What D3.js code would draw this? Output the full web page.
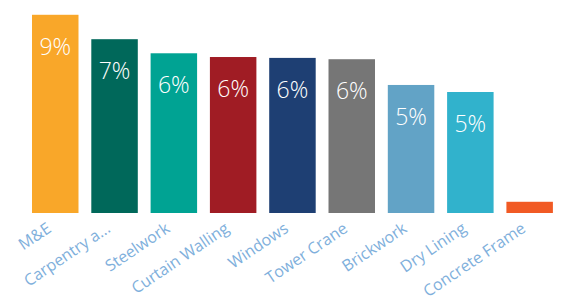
<!DOCTYPE html>
<html><head><meta charset="utf-8">
<script src="https://cdn.jsdelivr.net/npm/d3@7"></script>
<style>html,body{margin:0;padding:0;background:#fff;}svg{display:block;}</style>
</head><body>
<svg id="chart" width="561" height="302"></svg>
<script>
const categories = ["M&E","Carpentry a...","Steelwork","Curtain Walling","Windows","Tower Crane","Brickwork","Dry Lining","Concrete Frame"];
const values = [9.01, 7.9, 7.26, 7.09, 7.05, 6.99, 5.82, 5.5, 0.51];
const valueLabels = ["9%","7%","6%","6%","6%","6%","5%","5%",""];
const colors = ["#F9A729","#00685A","#00A393","#A01C24","#1E3F73","#767676","#62A3C6","#31B2CC","#F15A24"];

const svg = d3.select("#chart");
const x = d3.scaleBand().domain(categories).range([25.6, 559.3]).paddingInner(0.216).paddingOuter(0.108);
const y = d3.scaleLinear().domain([0, 10]).range([213, -7]);

svg.selectAll("rect.bar").data(categories).join("rect")
  .attr("class","bar")
  .attr("x", d => x(d))
  .attr("y", (d,i) => y(values[i]))
  .attr("width", x.bandwidth())
  .attr("height", (d,i) => y(0) - y(values[i]))
  .attr("fill", (d,i) => colors[i]);

svg.selectAll("text.val").data(categories).join("text")
  .attr("class","val")
  .attr("x", d => x(d) + x.bandwidth()/2)
  .attr("y", (d,i) => y(values[i]) + 40)
  .attr("text-anchor","middle")
  .attr("fill","#fff")
  .style("font-family","'Open Sans', sans-serif")
  .style("font-weight", 300)
  .style("font-size","23px")
  .text((d,i) => valueLabels[i]);

const xAxis = d3.axisBottom(x).tickSize(0).tickPadding(0);
const gx = svg.append("g").attr("transform","translate(0,213)").call(xAxis);
gx.select(".domain").remove();
gx.selectAll(".tick text")
  .attr("fill","#7FB0DC")
  .style("font-family","'Open Sans', sans-serif")
  .style("font-size","16px")
  .attr("text-anchor","end")
  .attr("dy", null)
  .attr("y", null)
  .attr("transform","translate(-3,18) rotate(-34)");
</script>
</body></html>
